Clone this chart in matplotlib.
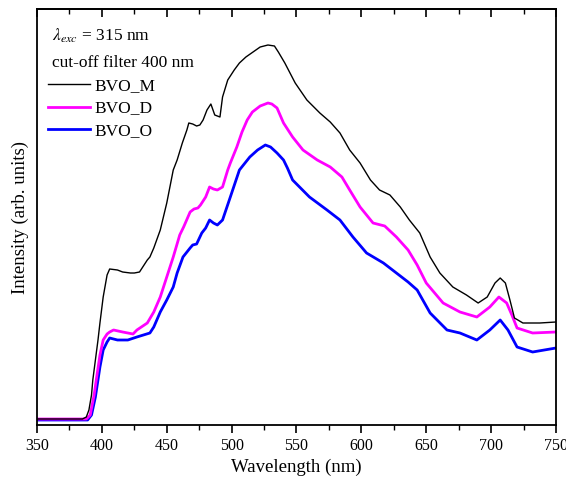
import numpy as np
import matplotlib
matplotlib.use('Agg')
import matplotlib.pyplot as plt
from matplotlib.ticker import MultipleLocator

# Fonts (Times-like, as in the original Origin plot)
plt.rcParams['font.family'] = ['Liberation Serif', 'DejaVu Serif']
plt.rcParams['mathtext.fontset'] = 'stix'

# Data (wavelength in nm, intensity in arb. units)
wl_m = [350, 385, 388, 390, 392, 393, 395, 397, 398.5, 401, 404, 406, 412, 416, 422, 425,
        429, 435, 437, 440, 445, 450, 455, 458, 462, 465.5, 467, 470, 473, 475.5, 478, 481,
        484, 487, 491, 493, 497, 502, 506, 511, 516.5, 522, 528, 533, 536, 541, 549, 558,
        568, 576, 583.5, 591, 599, 607, 614, 622, 630, 637, 645, 653, 660.5, 670.5, 681,
        690, 697, 703, 707, 711, 714.5, 718, 724.5, 737.5, 750]
int_m = [9, 9, 11, 18, 33, 48, 68, 88, 105, 131, 153, 159, 158, 156, 155, 155,
         156, 168, 171, 180, 198, 225, 258, 268, 285, 298, 305, 304, 302, 303, 308, 318,
         324, 313, 311, 331, 348, 358, 365, 371, 376, 381, 383, 382, 376, 365, 345, 328,
         315, 306, 295, 278, 265, 248, 238, 233, 221, 208, 195, 171, 155, 141, 133,
         125, 131, 145, 150, 145, 128, 110, 105, 105, 106]

wl_d = [350, 388, 391, 394, 396, 398.5, 401, 404, 406, 409, 416, 424, 427, 435, 440, 445,
        450, 455, 460, 463, 468, 471, 474, 476, 480, 483, 486, 489, 493, 497, 499, 504,
        508, 512, 516, 522, 528, 531, 535, 540, 547, 555, 566, 576, 585, 591, 599, 609,
        618, 627, 636, 643, 650, 663, 676, 689, 699, 706, 712, 716, 720, 732, 750]
int_d = [9, 9, 13, 33, 51, 73, 88, 94, 96, 98, 96, 94, 98, 105, 116, 131,
         151, 171, 193, 201, 216, 219, 220, 223, 231, 241, 239, 238, 241, 258, 265, 281,
         296, 308, 316, 322, 325, 324, 320, 305, 291, 278, 268, 261, 251, 238, 221, 205,
         202, 191, 178, 163, 145, 125, 116, 111, 121, 131, 125, 113, 100, 95, 96]

wl_o = [350, 389, 392, 395, 398.5, 401, 404, 406, 412, 420, 427, 437, 440, 445, 450, 455,
        458, 462.5, 468, 470, 473, 477, 480, 483, 486, 489, 493, 499, 506, 514, 520, 526,
        530, 535, 540, 543, 547, 560, 573.5, 583.5, 593.5, 604, 617, 627, 636, 643, 653,
        666, 676, 689, 699, 707, 713, 720, 732, 750]
int_o = [8, 8, 13, 31, 61, 78, 86, 90, 88, 88, 91, 95, 101, 116, 128, 141,
         155, 171, 180, 183, 184, 195, 200, 208, 205, 203, 208, 231, 258, 271, 278, 283,
         281, 275, 268, 260, 248, 231, 218, 208, 191, 175, 165, 155, 146, 138, 115,
         98, 95, 88, 98, 108, 98, 81, 76, 80]

labels = ['BVO_M', 'BVO_D', 'BVO_O']

fig = plt.figure(figsize=(5.66, 4.84), dpi=100)
ax = fig.add_axes([0.0654, 0.1219, 0.9169, 0.8595])

l_o, = ax.plot(wl_o, int_o, color='#0000ff', lw=2.0)
l_d, = ax.plot(wl_d, int_d, color='#ff00ff', lw=2.0)
l_m, = ax.plot(wl_m, int_m, color='black', lw=1.0)

ax.set_xlim(350, 750)
ax.set_ylim(3, 419)
ax.set_yticks([])

ax.xaxis.set_major_locator(MultipleLocator(50))
ax.xaxis.set_minor_locator(MultipleLocator(25))
ax.tick_params(axis='x', which='major', direction='out', length=6, width=1.2,
               labelsize=11.5, pad=3)
ax.tick_params(axis='x', which='minor', direction='out', length=3.5, width=1.0)

# mirrored inward ticks on top
top = ax.secondary_xaxis('top')
top.xaxis.set_major_locator(MultipleLocator(50))
top.xaxis.set_minor_locator(MultipleLocator(25))
top.tick_params(axis='x', which='major', direction='in', length=6, width=1.2, labeltop=False)
top.tick_params(axis='x', which='minor', direction='in', length=3.5, width=1.0)
top.spines['top'].set_linewidth(1.3)

for s in ax.spines.values():
    s.set_linewidth(1.3)

ax.set_xlabel('Wavelength (nm)', fontsize=13.5, labelpad=4)
ax.set_ylabel('Intensity (arb. units)', fontsize=13.5, labelpad=6)

ax.text(0.029, 0.935, r'$\lambda_{exc}$ = 315 nm', transform=ax.transAxes,
        fontsize=12.5, va='center', ha='left')
ax.text(0.029, 0.871, 'cut-off filter 400 nm', transform=ax.transAxes,
        fontsize=12.5, va='center', ha='left')

ax.legend([l_m, l_d, l_o], labels, loc='upper left', bbox_to_anchor=(0.022, 0.834),
          frameon=False, fontsize=12.5, handlelength=2.4, handletextpad=0.25,
          labelspacing=0.36, borderpad=0, borderaxespad=0)

fig.savefig('out.png', dpi=100)
